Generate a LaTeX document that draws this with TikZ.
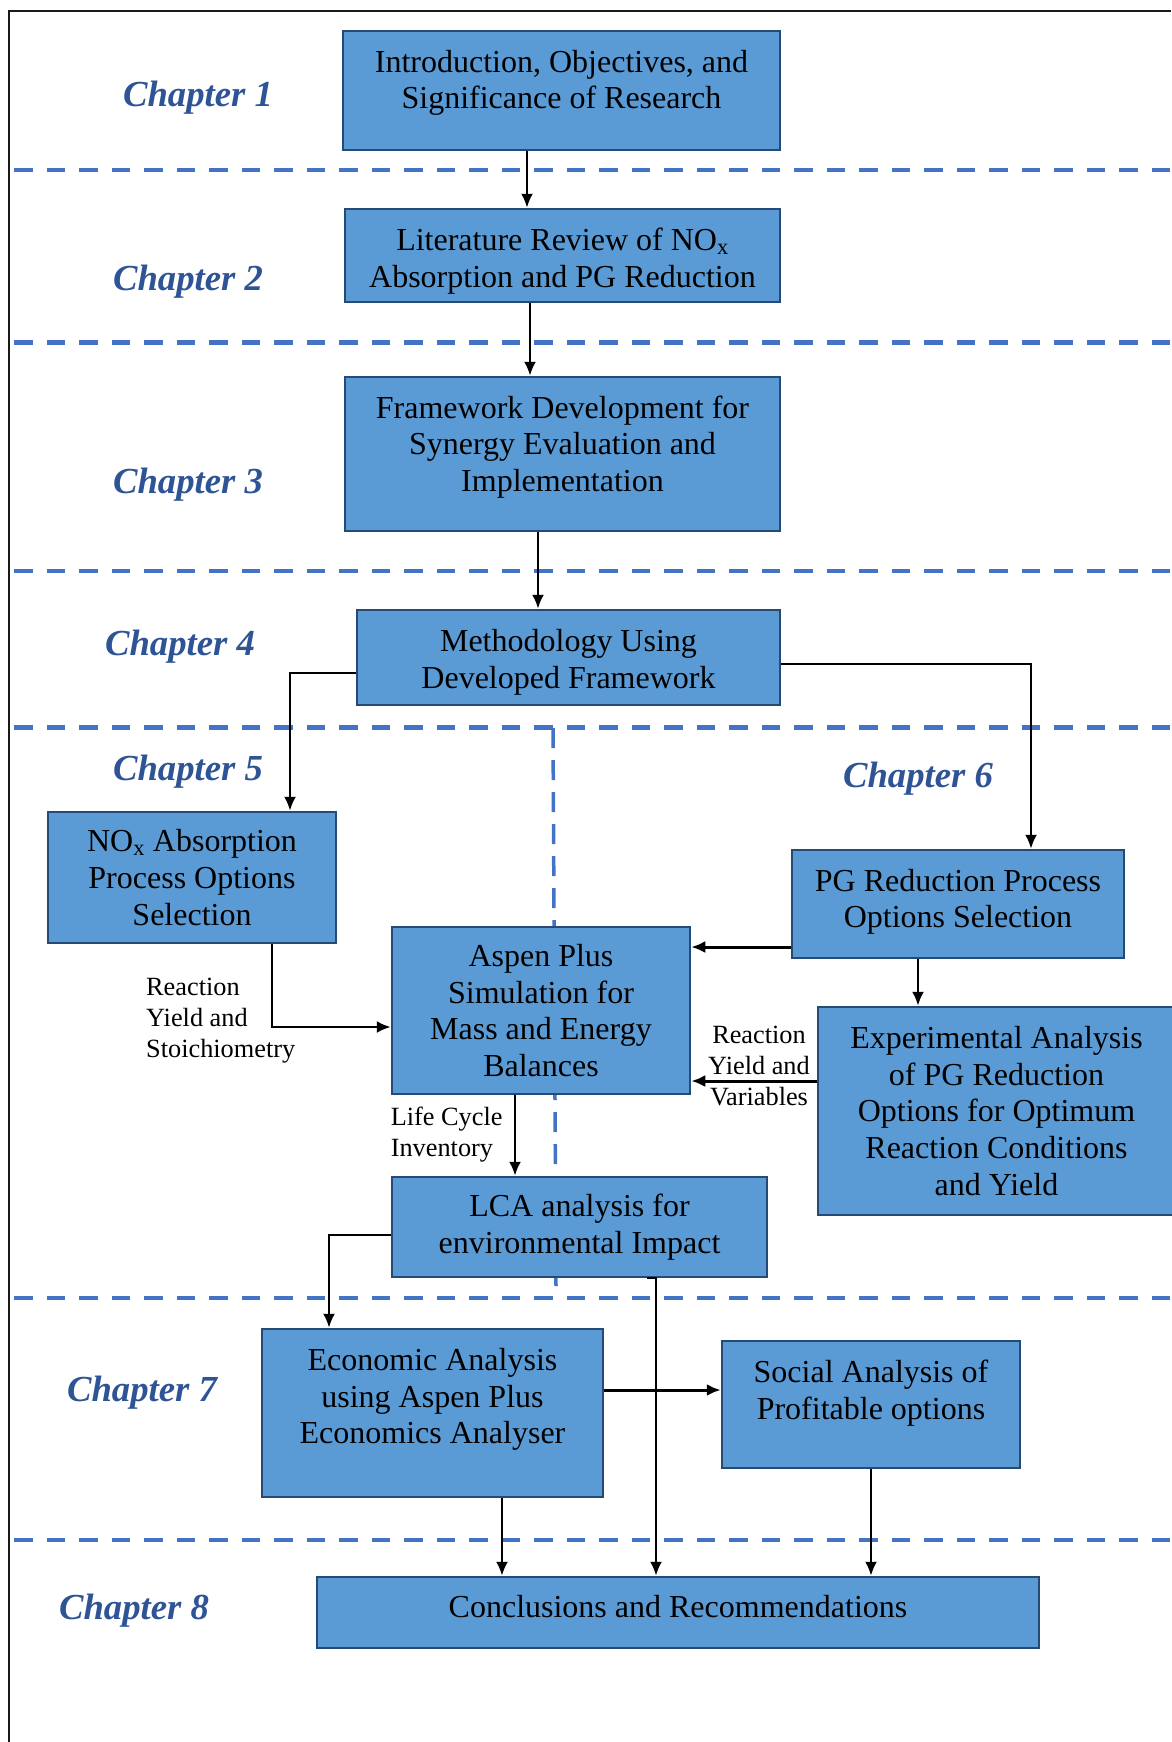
\documentclass[tikz,border=0pt]{standalone}
\usepackage{fontspec}
\setmainfont{Liberation Serif}
\usetikzlibrary{arrows.meta, positioning, calc}
\definecolor{boxfill}{RGB}{91, 155, 213}
\definecolor{boxline}{RGB}{37, 74, 115}
\definecolor{rulecol}{RGB}{68, 114, 196}
\definecolor{chapblue}{RGB}{47, 84, 150}
\tikzset{
  stage/.style={
    draw=boxline, line width=2.5, fill=boxfill,
    inner sep=0pt, align=center,
    font=\fontsize{32}{36.7}\selectfont
  },
  chaplabel/.style={
    text=chapblue, font=\fontsize{36.7}{40}\selectfont\bfseries\itshape
  },
  divider/.style={rulecol, line width=4.5, dash pattern=on 18.5 off 14},
  flow/.style={-{Latex[length=14, width=12]}, line width=2.3, black},
  flowlabel/.style={font=\fontsize{26.3}{31}\selectfont, inner sep=0pt},
}
\begin{document}
\begin{tikzpicture}[x=1pt, y=-1pt]
  \useasboundingbox (0,0) rectangle (1171,1742);

  % ============ FRAME AND CHAPTER RULES ============
  \draw[line width=2, black!90] (9,1742) -- (9,11) -- (1171,11);
  \foreach \y in {170, 342.5, 571, 727.5, 1298, 1540} {
    \draw[divider] (14,\y) -- (1171,\y);
  }
  % split between chapter 5 and chapter 6
  \draw[rulecol, line width=3.5, dash pattern=on 20 off 12] (553,728) -- (556,1286);

  % ============ CHAPTER LABELS ============
  \node[chaplabel] (ch1) at (198, 98)    {Chapter 1};
  \node[chaplabel] (ch2) at (188, 282)   {Chapter 2};
  \node[chaplabel] (ch3) at (188, 484.5) {Chapter 3};
  \node[chaplabel] (ch4) at (180, 646.5) {Chapter 4};
  \node[chaplabel] (ch5) at (188, 772)   {Chapter 5};
  \node[chaplabel] (ch6) at (918, 778.5) {Chapter 6};
  \node[chaplabel] (ch7) at (142, 1392.5){Chapter 7};
  \node[chaplabel] (ch8) at (134, 1611)  {Chapter 8};

  % ============ STAGES ============
  \node[stage, minimum width=437, minimum height=119, text depth=22]
    (intro) at (561.5, 90.5) {Introduction, Objectives, and\\Significance of Research};
  \node[stage, minimum width=435, minimum height=93, text height=70]
    (litrev) at (562.5, 255.5) {Literature Review of NO\textsubscript{x}\\Absorption and PG Reduction};
  \node[stage, minimum width=435, minimum height=154, text depth=21]
    (frmwk) at (562.5, 454) {Framework Development for\\Synergy Evaluation and\\Implementation};
  \node[stage, minimum width=423, minimum height=95, text height=69]
    (method) at (568.5, 657.5) {Methodology Using\\Developed Framework};

  % Chapter 5 / 6
  \node[stage, minimum width=288, minimum height=131]
    (noxsel) at (192, 877.5) {NO\textsubscript{x} Absorption\\Process Options\\Selection};
  \node[stage, minimum width=332, minimum height=108, text depth=11]
    (pgsel) at (958, 904) {PG Reduction Process\\Options Selection};
  \node[stage, minimum width=298, minimum height=167]
    (aspen) at (541, 1010.5) {Aspen Plus\\Simulation for\\Mass and Energy\\Balances};
  \node[stage, minimum width=357, minimum height=208]
    (expt) at (996.5, 1111) {Experimental Analysis\\of PG Reduction\\Options for Optimum\\Reaction Conditions\\and Yield};
  \node[stage, minimum width=375, minimum height=100]
    (lca) at (579.5, 1227) {LCA analysis for\\environmental Impact};

  % Chapter 7 / 8
  \node[stage, minimum width=341, minimum height=168, text depth=34]
    (econ) at (432.5, 1413) {Economic Analysis\\using Aspen Plus\\Economics Analyser};
  \node[stage, minimum width=298, minimum height=127, text depth=29]
    (social) at (871, 1404.5) {Social Analysis of\\Profitable options};
  \node[stage, minimum width=722, minimum height=71, text depth=12]
    (concl) at (678, 1612.5) {Conclusions and Recommendations};

  % ============ FLOWS ============
  \draw[flow] ([xshift=-34.5]intro.south) -- ([xshift=-34.5]intro.south |- litrev.north);
  \draw[flow] ([xshift=-32.5]litrev.south) -- ([xshift=-32.5]litrev.south |- frmwk.north);
  \draw[flow] ([xshift=-24.5]frmwk.south) -- ([xshift=-24.5]frmwk.south |- method.north);
  \draw[flow] ([yshift=-15.5]method.west) -| ([xshift=98]noxsel.north);
  \draw[flow] ([yshift=-6.5]method.east) -| ([xshift=73]pgsel.north);

  \draw[flow] ([xshift=80]noxsel.south) |- ([yshift=-16.5]aspen.west);
  \draw[flow, line width=3] ([yshift=-43]pgsel.west) -- ([yshift=63.5]aspen.east);
  \draw[flow] ([xshift=-40]pgsel.south) -- ([xshift=-40]pgsel.south |- expt.north);
  \draw[flow, line width=3] ([yshift=30]expt.west) -- ([yshift=-70.5]aspen.east);
  \draw[flow] ([xshift=-26]aspen.south) -- ([xshift=-26]aspen.south |- lca.north);

  \draw[flow] ([yshift=-8]lca.west) -| ([xshift=-103.5]econ.north);
  \draw[flow] ([xshift=67.5]lca.south) -| ([xshift=-22]concl.north);
  \draw[flow, line width=3] ([yshift=23]econ.east) -- ([yshift=14.5]social.west);
  \draw[flow] ([xshift=69.5]econ.south) -- ([xshift=69.5]econ.south |- concl.north);
  \draw[flow] (social.south) -- (social.south |- concl.north);

  % flow labels
  \node[flowlabel, anchor=west, align=left] (stoichlbl) at (146, 1021)
    {Reaction\\Yield and\\Stoichiometry};
  \node[flowlabel, align=center] (varlbl) at (759, 1065.5)
    {Reaction\\Yield and\\Variables};
  \node[flowlabel, anchor=west, align=left] (lcilbl) at (390.6, 1134.5)
    {Life Cycle\\Inventory};

\end{tikzpicture}
\end{document}
